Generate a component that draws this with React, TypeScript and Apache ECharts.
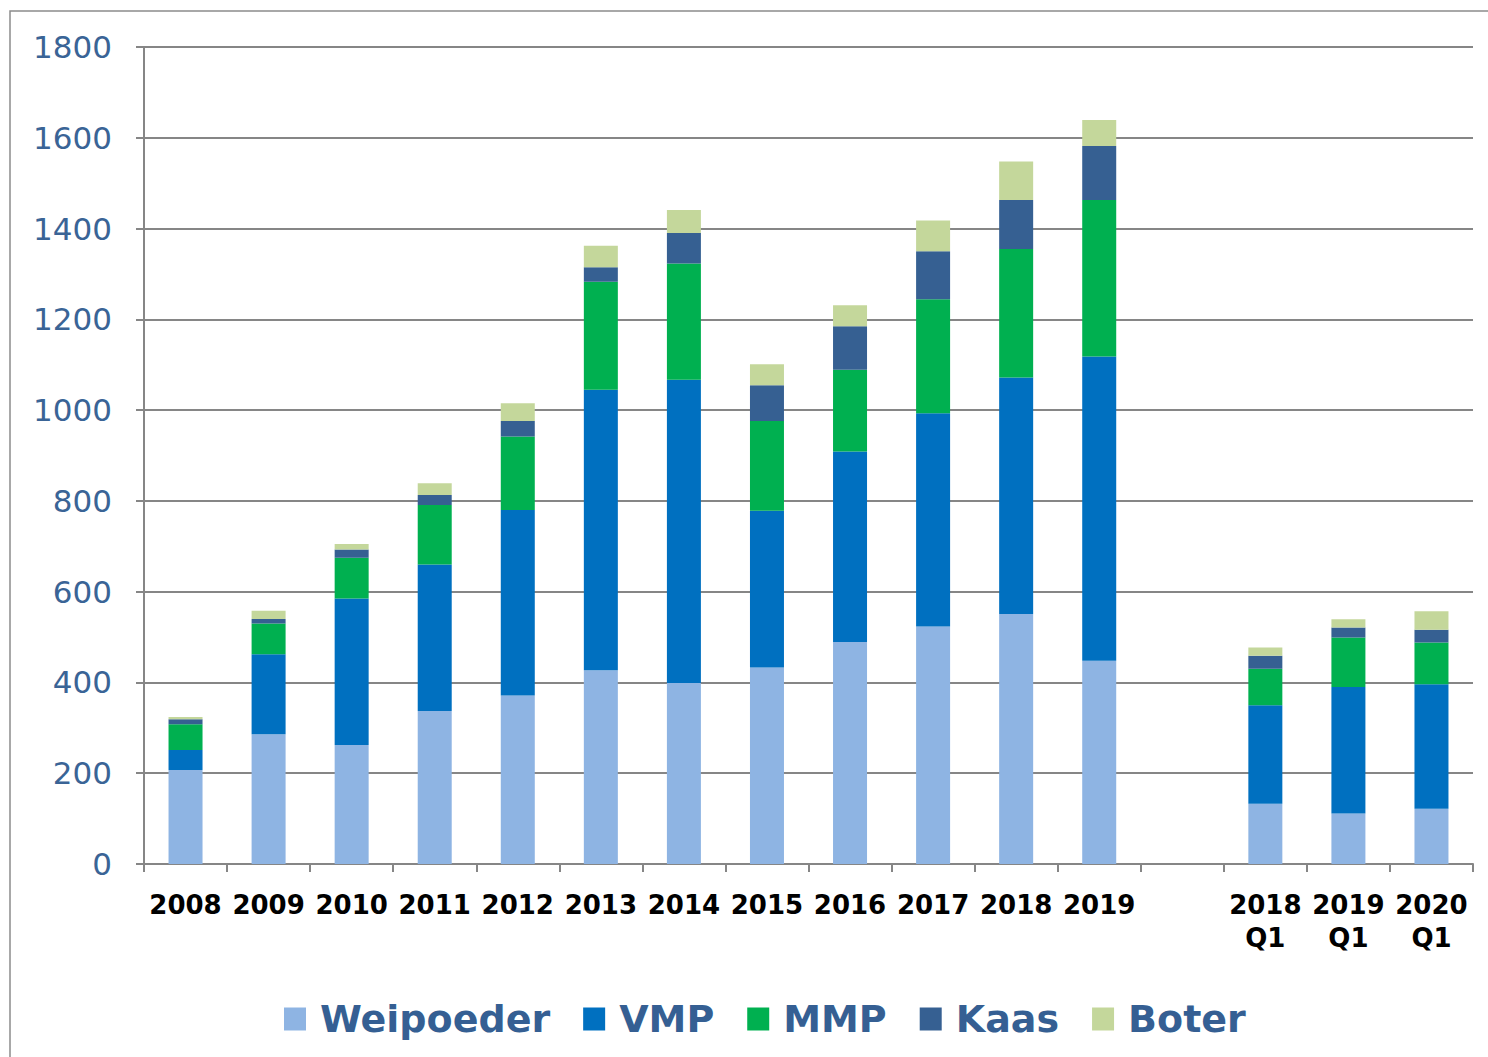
import React, { useEffect, useRef } from "react";
import * as echarts from "echarts";

const categories = [
  "2008", "2009", "2010", "2011", "2012", "2013", "2014", "2015", "2016", "2017", "2018", "2019",
  "",
  "2018\nQ1", "2019\nQ1", "2020\nQ1",
];

const weipoeder = [207, 286, 262, 337, 371, 427, 399, 433, 489, 523, 551, 448, null, 133, 111, 122];
const vmp = [44, 176, 323, 323, 409, 618, 668, 345, 420, 470, 521, 670, null, 217, 279, 274];
const mmp = [57, 68, 90, 131, 162, 238, 256, 198, 180, 251, 283, 345, null, 80, 109, 92];
const kaas = [11, 10, 18, 22, 34, 32, 67, 79, 96, 106, 108, 119, null, 29, 22, 28];
const boter = [5, 18, 12, 26, 39, 47, 51, 46, 46, 68, 85, 57, null, 18, 18, 41];

const seriesNames = ["Weipoeder", "VMP", "MMP", "Kaas", "Boter"];
const seriesColors = ["#8EB4E3", "#0070C0", "#00B050", "#366092", "#C4D79B"];
const seriesData = [weipoeder, vmp, mmp, kaas, boter];

const yTicks = { min: 0, max: 1800, interval: 200 };

export default function App() {
  const ref = useRef<HTMLDivElement>(null);

  useEffect(() => {
    document.body.style.margin = "0";
    const chart = echarts.init(ref.current!, null, { renderer: "svg" });
    const font = "DejaVu Sans";
    chart.setOption({
      animation: false,
      backgroundColor: "#ffffff",
      graphic: [
        {
          type: "rect",
          shape: { x: 10, y: 11, width: 1600, height: 1200 },
          style: { fill: "none", stroke: "#8c8c8c", lineWidth: 1.5 },
          silent: true,
          z: -1,
        },
      ],
      grid: { left: 144, right: 15, top: 47, bottom: 193, containLabel: false },
      legend: {
        left: 279,
        top: 995,
        itemWidth: 22,
        itemHeight: 23,
        itemGap: 33,
        icon: "rect",
        data: seriesNames,
        textStyle: {
          fontFamily: font,
          fontWeight: "bold",
          fontSize: 38,
          color: "#355F93",
          padding: [0, 0, 0, 9],
        },
      },
      xAxis: {
        type: "category",
        data: categories,
        boundaryGap: true,
        axisLine: { lineStyle: { color: "#868686", width: 2 } },
        axisTick: { show: true, length: 8, lineStyle: { color: "#868686", width: 2 } },
        axisLabel: {
          interval: 0,
          margin: 24,
          fontFamily: font,
          fontWeight: "bold",
          fontSize: 26,
          lineHeight: 33,
          color: "#000000",
        },
        splitLine: { show: false },
      },
      yAxis: {
        type: "value",
        min: yTicks.min,
        max: yTicks.max,
        interval: yTicks.interval,
        axisLine: { show: true, lineStyle: { color: "#868686", width: 2 } },
        axisTick: { show: true, length: 8, lineStyle: { color: "#868686", width: 2 } },
        axisLabel: {
          margin: 32,
          fontFamily: font,
          fontSize: 31,
          color: "#3A6496",
          formatter: (v: number) => String(v),
        },
        splitLine: { show: true, lineStyle: { color: "#868686", width: 2 } },
      },
      series: seriesNames.map((name, i) => ({
        name,
        type: "bar",
        stack: "total",
        barWidth: 34,
        data: seriesData[i],
        itemStyle: { color: seriesColors[i] },
      })),
    });
    return () => chart.dispose();
  }, []);

  return (
    <div
      ref={ref}
      style={{ position: "absolute", left: 0, top: 0, width: 1488, height: 1057 }}
    />
  );
}
